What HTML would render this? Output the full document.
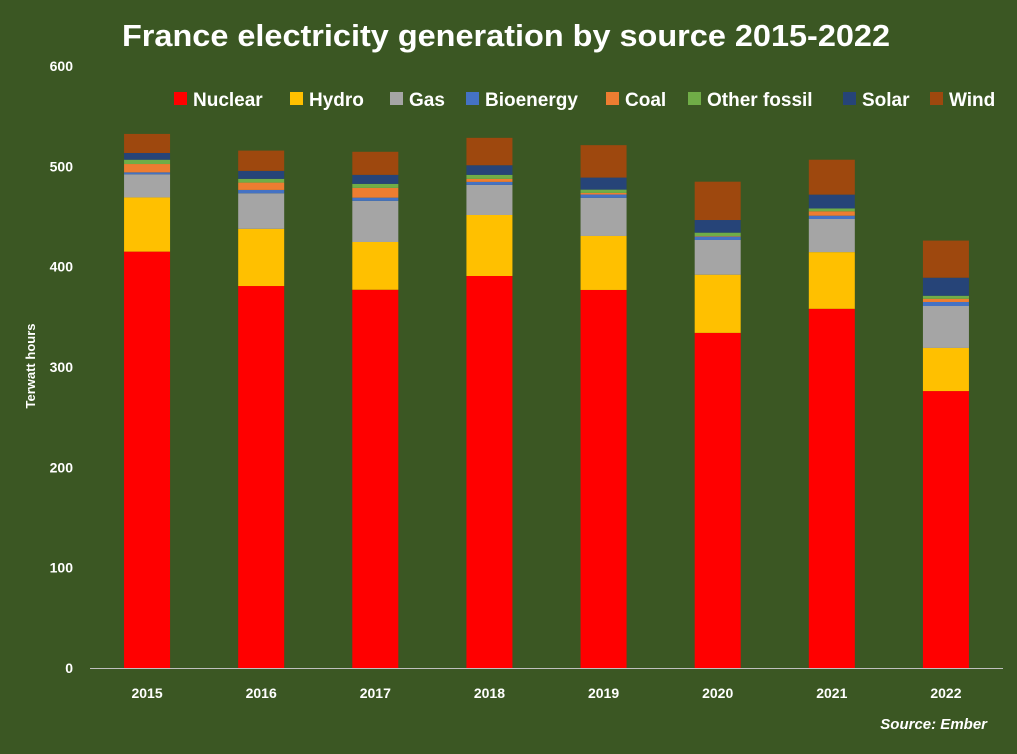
<!DOCTYPE html>
<html><head><meta charset="utf-8"><style>
body{margin:0;background:#3b5723;}
#c{position:relative;width:1017px;height:754px;background:#3b5723;overflow:hidden;font-family:"Liberation Sans",sans-serif;color:#fff;}
</style></head><body>
<div id="c">
<svg id="s" width="1017" height="754"></svg>
</div>
<script>
const years=["2015","2016","2017","2018","2019","2020","2021","2022"];
const nuclear=[415,380.7,377,390.7,376.8,334,358,276];
const hydro=[54,57,47.6,60.8,53.8,58,56.5,43];
const gas=[23,35.4,41,30,38,34.6,33,41.8];
const bioenergy=[2,3.4,3.2,3,3.3,3.4,3.3,4];
const coal=[8.3,7.3,9.7,3,1.6,0.5,4.4,3.2];
const otherFossil=[4.3,3.7,4,4,3.3,3.4,2.8,3];
const solar=[6.7,8,9,9.6,12,12.6,13.8,18];
const wind=[19,20.2,23,27.3,32.3,38.2,34.8,37];
const yTicks=[0,100,200,300,400,500,600];
const seriesNames=["Nuclear","Hydro","Gas","Bioenergy","Coal","Other fossil","Solar","Wind"];
const seriesData=[nuclear,hydro,gas,bioenergy,coal,otherFossil,solar,wind];
const colors=["#ff0000","#ffc000","#a5a5a5","#4472c4","#ed7d31","#70ad47","#264478","#9e480e"];
const legendX=[174,290,390,466,606,688,843,930];

const NS="http://www.w3.org/2000/svg";
const svg=document.getElementById('s');
function el(t,a,p){const e=document.createElementNS(NS,t);for(const k in a)e.setAttribute(k,a[k]);(p||svg).appendChild(e);return e;}
const x0=90,x1=1003,yBase=668,yTop=66;
const y=v=>yBase-(v/600)*(yBase-yTop);
const band=(x1-x0)/years.length;
const xc=i=>x0+band*(i+0.5);
const bw=46;

let t=el('text',{x:122,y:46,'font-size':31,'font-weight':'bold',fill:'#fff',textLength:768,lengthAdjust:'spacingAndGlyphs'});
t.textContent="France electricity generation by source 2015-2022";



yTicks.forEach(v=>{
 const tx=el('text',{x:73,y:y(v)+5,'text-anchor':'end','font-size':14,'font-weight':'bold',fill:'#fff'});
 tx.textContent=v;
 
 
});
const yl=el('text',{x:0,y:0,transform:'translate(35,366) rotate(-90)','text-anchor':'middle','font-size':13,'font-weight':'bold',fill:'#fff'});
yl.textContent="Terwatt hours";



years.forEach((yr,i)=>{
 let acc=0;
 seriesData.forEach((s,k)=>{
  const v=s[i];
  const r=el('rect',{x:xc(i)-bw/2,y:y(acc+v),width:bw,height:y(acc)-y(acc+v),fill:colors[k]});
  
  
  acc+=v;
 });
 const xl=el('text',{x:xc(i),y:698,'text-anchor':'middle','font-size':14,'font-weight':'bold',fill:'#fff'});
 xl.textContent=yr;
 
 
});
const ax=el('line',{x1:x0,x2:x1,y1:yBase+0.5,y2:yBase+0.5,stroke:'#bfbfbf','stroke-width':1});



seriesNames.forEach((n,k)=>{
 const g=el('g',{});
 
 
 el('rect',{x:legendX[k],y:92,width:13,height:13,fill:colors[k]},g);
 const lt=el('text',{x:legendX[k]+19,y:106,'font-size':19,'font-weight':'bold',fill:'#fff'},g);
 lt.textContent=n;
});

const src=el('text',{x:987,y:729,'text-anchor':'end','font-size':15,'font-weight':'bold','font-style':'italic',fill:'#fff'});
src.textContent="Source: Ember";


</script>
</body></html>
